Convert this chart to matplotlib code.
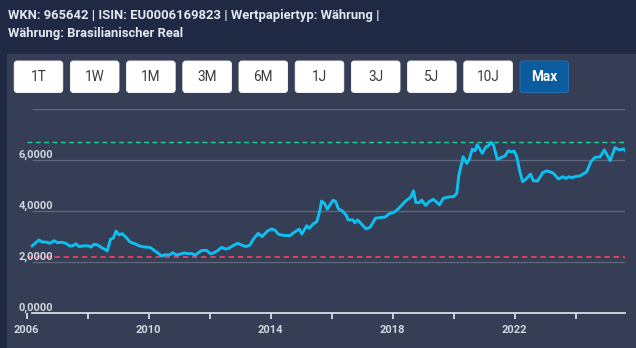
import matplotlib
matplotlib.use("Agg")
import matplotlib.pyplot as plt
from matplotlib.patches import FancyBboxPatch, Rectangle

# EUR/BRL
years = [2006.18, 2006.40, 2006.49, 2006.66, 2006.76, 2006.90, 2007.02, 2007.15, 2007.28, 2007.42,
         2007.51, 2007.61, 2007.72, 2007.86, 2008.02, 2008.11, 2008.21, 2008.31, 2008.46, 2008.59,
         2008.64, 2008.75, 2008.84, 2008.93, 2009.03, 2009.13, 2009.26, 2009.39, 2009.55, 2009.71,
         2009.88, 2010.04, 2010.24, 2010.43, 2010.53, 2010.68, 2010.79, 2010.90, 2011.03, 2011.17,
         2011.30, 2011.41, 2011.52, 2011.63, 2011.74, 2011.90, 2012.03, 2012.14, 2012.26, 2012.39,
         2012.53, 2012.64, 2012.75, 2012.92, 2013.05, 2013.19, 2013.32, 2013.43, 2013.59, 2013.72,
         2013.89, 2014.03, 2014.14, 2014.25, 2014.41, 2014.63, 2014.77, 2014.94, 2015.02, 2015.18,
         2015.27, 2015.38, 2015.51, 2015.59, 2015.67, 2015.76, 2015.86, 2015.94, 2016.05, 2016.13,
         2016.22, 2016.35, 2016.47, 2016.54, 2016.69, 2016.76, 2016.85, 2016.98, 2017.12, 2017.26,
         2017.44, 2017.58, 2017.75, 2017.91, 2018.02, 2018.18, 2018.35, 2018.46, 2018.59, 2018.68,
         2018.76, 2018.87, 2018.95, 2019.08, 2019.20, 2019.33, 2019.42, 2019.53, 2019.66, 2019.79,
         2019.88, 2019.99, 2020.10, 2020.17, 2020.26, 2020.31, 2020.43, 2020.51, 2020.61, 2020.70,
         2020.77, 2020.86, 2020.94, 2021.06, 2021.14, 2021.22, 2021.30, 2021.43, 2021.57, 2021.68,
         2021.79, 2021.90, 2021.98, 2022.07, 2022.17, 2022.26, 2022.39, 2022.52, 2022.61, 2022.75,
         2022.92, 2023.05, 2023.16, 2023.27, 2023.43, 2023.59, 2023.68, 2023.78, 2023.87, 2023.98,
         2024.14, 2024.36, 2024.50, 2024.63, 2024.80, 2024.94, 2025.13, 2025.29, 2025.44, 2025.53,
         2025.59, 2025.66]
values = [2.63, 2.86, 2.79, 2.77, 2.73, 2.83, 2.75, 2.77, 2.73, 2.62,
          2.63, 2.71, 2.60, 2.63, 2.63, 2.58, 2.69, 2.67, 2.56, 2.47,
          2.43, 2.89, 2.93, 3.21, 3.06, 3.11, 2.96, 2.78, 2.71, 2.62,
          2.58, 2.57, 2.40, 2.23, 2.28, 2.27, 2.36, 2.27, 2.30, 2.35,
          2.32, 2.33, 2.26, 2.36, 2.45, 2.45, 2.31, 2.36, 2.44, 2.57,
          2.50, 2.54, 2.63, 2.73, 2.66, 2.60, 2.66, 2.89, 3.12, 2.99,
          3.21, 3.29, 3.25, 3.09, 3.04, 3.03, 3.16, 3.29, 3.09, 3.42,
          3.32, 3.48, 3.58, 3.91, 4.39, 4.30, 4.07, 4.24, 4.43, 4.37,
          4.08, 4.00, 3.84, 3.65, 3.65, 3.54, 3.65, 3.48, 3.30, 3.36,
          3.72, 3.74, 3.76, 3.91, 3.93, 4.08, 4.30, 4.43, 4.54, 4.79,
          4.33, 4.33, 4.43, 4.22, 4.37, 4.46, 4.37, 4.24, 4.50, 4.54,
          4.56, 4.56, 4.69, 5.41, 5.87, 6.13, 5.87, 6.03, 6.43, 6.37,
          6.61, 6.43, 6.27, 6.53, 6.56, 6.70, 6.61, 6.03, 6.11, 6.16,
          6.37, 6.33, 6.36, 6.13, 5.54, 5.15, 5.28, 5.45, 5.19, 5.18,
          5.51, 5.58, 5.54, 5.48, 5.26, 5.35, 5.28, 5.35, 5.31, 5.35,
          5.38, 5.54, 5.94, 6.11, 6.13, 6.40, 5.98, 6.49, 6.40, 6.43,
          6.44, 6.31]

header1 = "WKN: 965642 | ISIN: EU0006169823 | Wertpapiertyp: Währung |"
header2 = "Währung: Brasilianischer Real"
buttons = ["1T", "1W", "1M", "3M", "6M", "1J", "3J", "5J", "10J", "Max"]
active = "Max"
y_ticks = [0, 2, 4, 6]
y_grid = [2, 4, 6, 8]
x_major = [2006, 2010, 2014, 2018, 2022]
x_minor = [2008, 2012, 2016, 2020, 2024]

BG = "#1f2944"
PANEL = "#353e54"
LINE = "#0dc0f2"
GRID = "#5e6679"
AXIS = "#d6dbe4"
LABEL = "#d2d6de"
FONT = ["Roboto", "DejaVu Sans"]

W, H = 636, 348
fig = plt.figure(figsize=(W / 100, H / 100), dpi=100, facecolor=BG)
px = fig.dpi_scale_trans  # inches == px/100

# panel
fig.add_artist(Rectangle((7 / 100, 0), (W - 7) / 100, (H - 54) / 100,
                         transform=px, facecolor=PANEL, edgecolor="none", zorder=0))

# header
hfont = dict(family=FONT, weight="bold", size=9.4, color="#e3e7ee")
fig.text(8 / 100, (H - 15) / 100, header1, transform=px, va="center", ha="left", **hfont)
fig.text(8 / 100, (H - 33) / 100, header2, transform=px, va="center", ha="left", **hfont)

# range buttons
bx0, bw, step = 14.2, 48.6, 56.2
by_top, bh = 61, 31.5
for i, b in enumerate(buttons):
    x0 = bx0 + i * step
    on = b == active
    fig.add_artist(FancyBboxPatch((x0 / 100, (H - by_top - bh) / 100), bw / 100, bh / 100,
                                  boxstyle="round,pad=0,rounding_size=0.03", transform=px,
                                  facecolor="#0b5b9f" if on else "white",
                                  edgecolor="#2a73b5" if on else "white", linewidth=0.6, zorder=2))
    fig.text((x0 + bw / 2) / 100, (H - by_top - bh / 2) / 100, b, transform=px,
             ha="center", va="center", fontsize=9.8, zorder=3, family=FONT,
             weight="bold" if on else "normal", color="white" if on else "#3a3a3a")

# chart axes: x 2006 at px 26.7, right end px 625; y 0 at px 312.7, 8 at px 109.3
x_left_px, x_right_px = 26.7, 625
y0_px, y8_px = 312.7, 109.3
ax = fig.add_axes([x_left_px / W, (H - y0_px) / H, (x_right_px - x_left_px) / W, (y0_px - y8_px) / H])
ax.set_facecolor("none")
xmax = 2006 + (x_right_px - x_left_px) / 30.5
ax.set_xlim(2006, xmax)
ax.set_ylim(0, 8)

ax.hlines(y_grid, years[0], xmax, color=GRID, linewidth=1.0, zorder=1)
ax.plot(years, values, color=LINE, linewidth=2.1, solid_joinstyle="round", zorder=3)
ax.axhline(max(values) + 0.01, color="#25d09a", linewidth=1.0, linestyle=(0, (3.5, 2.5)), zorder=2)
ax.axhline(min(values) - 0.02, color="#ff4566", linewidth=1.1, linestyle=(0, (3.5, 2.5)), zorder=2)

for s in ["top", "right", "left"]:
    ax.spines[s].set_visible(False)
ax.spines["bottom"].set_color(AXIS)
ax.spines["bottom"].set_linewidth(1.3)
ax.spines["bottom"].set_bounds(years[0], xmax)

ax.set_yticks([])
for v in y_ticks:
    ax.text(-0.013, v + 0.09, f"{v:.4f}".replace(".", ","), transform=ax.get_yaxis_transform(),
            ha="left", va="baseline", fontsize=8, weight="bold", color=LABEL,
            family=FONT, zorder=4)

ax.set_xticks(x_major)
ax.set_xticklabels([str(x) for x in x_major])
ax.set_xticks(x_minor, minor=True)
ax.tick_params(axis="x", which="both", direction="out", length=4, width=1.3, color=AXIS,
               labelcolor=LABEL, labelsize=8, pad=5)
for lab in ax.get_xticklabels():
    lab.set_fontweight("bold")
    lab.set_family(FONT)

fig.savefig("out.png", dpi=100, facecolor=BG)
